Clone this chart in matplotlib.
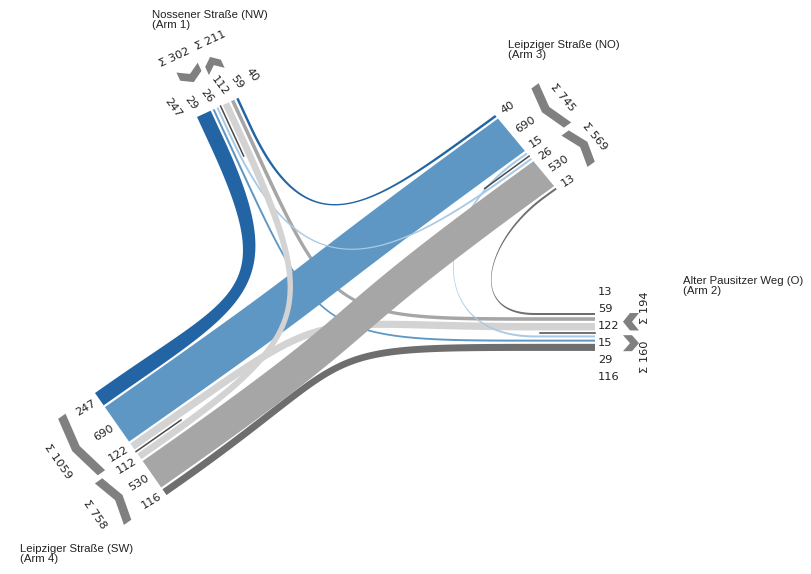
import numpy as np
import matplotlib.pyplot as plt
from matplotlib.patches import Polygon

plt.rcParams['font.family'] = ['Liberation Sans', 'DejaVu Sans']

# ---- data ---------------------------------------------------------------
arm_names = ['NW', 'O', 'NO', 'SW']
arm_titles = {'NW': 'Nossener Straße (NW)\n(Arm 1)',
              'O': 'Alter Pausitzer Weg (O)\n(Arm 2)',
              'NO': 'Leipziger Straße (NO)\n(Arm 3)',
              'SW': 'Leipziger Straße (SW)\n(Arm 4)'}

flow_from = ['NW', 'NW', 'NW', 'NO', 'NO', 'NO', 'SW', 'SW', 'SW', 'O', 'O', 'O']
flow_to = ['SW', 'O', 'NO', 'NW', 'SW', 'O', 'NW', 'NO', 'O', 'NW', 'NO', 'SW']
flow_val = [247, 29, 26, 40, 690, 15, 112, 530, 116, 59, 13, 122]
flow_turn = ['right', 'straight', 'left', 'right', 'straight', 'left',
             'left', 'straight', 'right', 'straight', 'right', 'left']

# order of the flows at each arm end (two groups per arm)
arm_slots = {
    'NW': [[0, 1, 2], [6, 9, 3]],
    'O': [[10, 9, 11], [5, 1, 8]],
    'NO': [[3, 4, 5], [2, 7, 10]],
    'SW': [[0, 4, 11], [6, 7, 8]],
}

# ---- layout / style -------------------------------------------------------
W, H = 811, 574
scale = 0.061      # px per vehicle
min_w = 2.0
gap = 2.2
sep_gap = 5.0
tension = 0.6

arm_base = {'NW': (197, 117), 'O': (595, 313), 'NO': (495, 115), 'SW': (95, 393)}
arm_dir = {'NW': (0.42, 0.907), 'O': (-1, 0), 'NO': (-0.81, 0.59), 'SW': (0.819, -0.574)}
arm_end = {'NW': (0.907, -0.42), 'O': (0, 1), 'NO': (0.64, 0.77), 'SW': (0.574, 0.819)}
arm_lead = {'NW': 30, 'O': 60, 'NO': 15, 'SW': 15}
lab_dist = {'NW': 8, 'O': 3, 'NO': 7, 'SW': 5}
lab_space = {'NW': 17, 'O': 17, 'NO': 15.5, 'SW': 14.5}
lab_shift = {'NW': 0, 'O': 4, 'NO': 0, 'SW': 0}
lab_rot = {'NW': -53, 'O': None, 'NO': 33, 'SW': 31}
chev_dist = {'NW': 33, 'O': 28, 'NO': 38, 'SW': 36}
sum_dist = {'NW': 64, 'O': 50, 'NO': 63, 'SW': 70}
sum_space = {'NW': 40, 'O': 49, 'NO': 0, 'SW': 0}
title_pos = {'NW': (152, 10), 'O': (683, 276), 'NO': (508, 40), 'SW': (20, 544)}

colors = {('blue', 'right'): '#2364a4', ('blue', 'straight'): '#5e97c4',
          ('blue', 'left'): '#a9c9e4', ('gray', 'right'): '#6e6e6e',
          ('gray', 'straight'): '#a6a6a6', ('gray', 'left'): '#d3d3d3'}
draw_order = [9, 1, 11, 5, 10, 8, 0, 3, 4, 7, 2, 6]
num_font = 'DejaVu Sans'

# ---- geometry -------------------------------------------------------------
N, U, B = {}, {}, {}
for a in arm_names:
    n = np.array(arm_dir[a], float)
    N[a] = n / np.linalg.norm(n)
    u = np.array(arm_end[a], float)
    U[a] = u / np.linalg.norm(u)
    B[a] = np.array(arm_base[a], float)

slot = {}
group_span = {}
sep_off = {}
for a in arm_names:
    pos = 0.0
    for gi, grp in enumerate(arm_slots[a]):
        if gi:
            sep_off[a] = pos - gap + sep_gap / 2
            pos += sep_gap - gap
        g0 = pos
        for f in grp:
            w = max(flow_val[f] * scale, min_w)
            slot[(a, f)] = (pos, pos + w)
            pos += w + gap
        group_span[(a, gi)] = (g0, pos - gap)


def bez(p0, p1, p2, p3, t):
    t = t[:, None]
    return ((1 - t) ** 3 * p0 + 3 * (1 - t) ** 2 * t * p1
            + 3 * (1 - t) * t ** 2 * p2 + t ** 3 * p3)


def corners(arm, f, side):
    s0, s1 = slot[(arm, f)]
    first, second = B[arm] + U[arm] * s0, B[arm] + U[arm] * s1
    return (second, first) if np.dot(side, U[arm]) > 0 else (first, second)


def ribbon(f):
    a, b = flow_from[f], flow_to[f]
    la = np.array([N[a][1], -N[a][0]])
    lb = np.array([-N[b][1], N[b][0]])
    ca = corners(a, f, la)
    cb = corners(b, f, lb)
    mid_a = (ca[0] + ca[1]) / 2 + N[a] * arm_lead[a]
    mid_b = (cb[0] + cb[1]) / 2 + N[b] * arm_lead[b]
    L = tension * np.linalg.norm(mid_b - mid_a)
    t = np.linspace(0, 1, 120)
    edges = []
    for k in range(2):
        p1 = ca[k] + N[a] * arm_lead[a]
        p4 = cb[k] + N[b] * arm_lead[b]
        edges.append(np.vstack([ca[k], bez(p1, p1 + L * N[a], p4 + L * N[b], p4, t), cb[k]]))
    return np.vstack([edges[0], edges[1][::-1]])


def upright(vec):
    # screen vector -> text angle, plus whether text reads along vec
    ang = np.degrees(np.arctan2(-vec[1], vec[0]))
    if ang > 90.5 or ang <= -89.5:
        return ang - 180 if ang > 0 else ang + 180, False
    return ang, True


def spread(want, space):
    # push label positions apart to at least `space`, keeping clusters centred
    clusters = [[i] for i in range(len(want))]
    moved = True
    while moved:
        moved = False
        starts = [np.mean([want[i] for i in c]) - (len(c) - 1) * space / 2 for c in clusters]
        for k in range(len(clusters) - 1):
            end_k = starts[k] + (len(clusters[k]) - 1) * space
            if starts[k + 1] - end_k < space:
                clusters[k] = clusters[k] + clusters.pop(k + 1)
                moved = True
                break
    out = {}
    for c in clusters:
        start = np.mean([want[i] for i in c]) - (len(c) - 1) * space / 2
        for j, i in enumerate(c):
            out[i] = start + j * space
    return [out[i] for i in range(len(want))]


fig = plt.figure(figsize=(W / 100, H / 100), dpi=100)
ax = fig.add_axes([0, 0, 1, 1])
ax.set_xlim(0, W)
ax.set_ylim(H, 0)
ax.axis('off')

for f in draw_order:
    shade = 'blue' if flow_from[f] in ('NW', 'NO') else 'gray'
    ax.add_patch(Polygon(ribbon(f), closed=True, facecolor=colors[(shade, flow_turn[f])],
                         edgecolor='none', zorder=2))

for a in arm_names:
    n, u, b0 = N[a], U[a], B[a]

    # separator line between the two groups
    p = b0 + u * sep_off[a]
    q = p + n * 55
    ax.plot([p[0], q[0]], [p[1], q[1]], color='#4a4a4a', lw=1.1, zorder=3)

    # value labels, spread apart where the bands are thin
    flows = arm_slots[a][0] + arm_slots[a][1]
    lab_pos = spread([sum(slot[(a, f)]) / 2 for f in flows], lab_space[a])
    ang, along = upright(-n)
    if lab_rot[a] is not None:
        ang = lab_rot[a]
    for i, f in enumerate(flows):
        p = b0 + u * (lab_pos[i] + lab_shift[a]) - n * lab_dist[a]
        ax.text(p[0], p[1], str(flow_val[f]), rotation=ang, rotation_mode='anchor',
                ha='left' if along else 'right', va='center', fontsize=8.2,
                family=num_font, color='#222222', zorder=4)

    # sum chevrons and sums
    sang, _ = upright(u)
    spans = [group_span[(a, gi)] for gi in range(2)]
    sum_pos = spread([(s0 + s1) / 2 for s0, s1 in spans], sum_space[a])
    for gi, grp in enumerate(arm_slots[a]):
        g0, g1 = spans[gi]
        if g1 - g0 < 16:
            mid = (g0 + g1) / 2
            g0, g1 = mid - 8, mid + 8
        gm = (g0 + g1) / 2
        inward = flow_from[grp[0]] == a
        d0 = chev_dist[a]
        bend, thick = 7, 9
        if inward:
            ends, vert = d0 + bend, d0
        else:
            ends, vert = d0, d0 + bend
        inner = [b0 + u * g0 - n * ends, b0 + u * gm - n * vert, b0 + u * g1 - n * ends]
        outer = [p - n * thick for p in inner]
        ax.add_patch(Polygon(np.array(inner + outer[::-1]), closed=True,
                             facecolor='#808080', edgecolor='none', zorder=3))
        total = sum(flow_val[f] for f in grp)
        p = b0 + u * sum_pos[gi] - n * sum_dist[a]
        ax.text(p[0], p[1], f'Σ {total}', rotation=sang, rotation_mode='anchor',
                ha='center', va='center', fontsize=8.2, family=num_font,
                color='#222222', zorder=4)

    tx, ty = title_pos[a]
    ax.text(tx, ty, arm_titles[a], ha='left', va='top', fontsize=8.2,
            linespacing=1.05, color='#222222')

fig.savefig('out.png', dpi=100)
